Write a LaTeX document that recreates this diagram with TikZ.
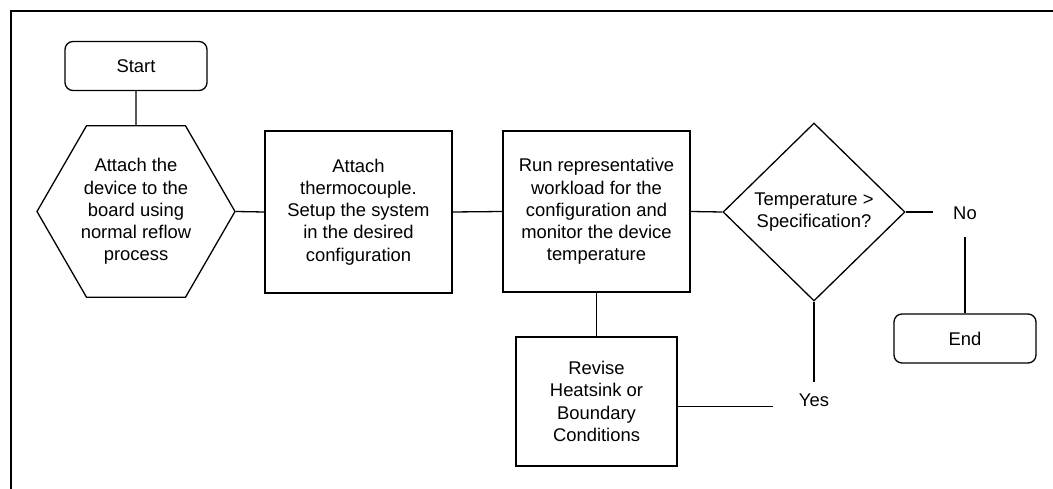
\documentclass[tikz,border=0pt]{standalone}
\usepackage{fontspec}
\setmainfont{Liberation Sans}
\usetikzlibrary{shapes.geometric}
\begin{document}
\begin{tikzpicture}[x=1pt,y=-1pt,
  every node/.style={font=\fontsize{18.4}{22.2}\selectfont},
  line/.style={line width=1.3pt},
  term/.style={draw,line width=1.3pt,rounded corners=8pt,minimum width=142pt,minimum height=49pt,inner sep=0pt},
  proc/.style={draw,line width=1.3pt,align=center,inner sep=0pt},
  lab/.style={inner sep=0pt}]
\useasboundingbox (0,0) rectangle (1053,489);
\draw[line width=2.2pt] (11,489) -- (11,11) -- (1053,11);
\node[term] (start) at (136,66) {Start};
\node[draw,line width=1.3pt,regular polygon,regular polygon sides=6,minimum size=198pt,inner sep=0pt,align=center] (hex) at (136,211.5) {Attach the\\device to the\\board using\\normal reflow\\process};
\node[proc,minimum width=187pt,minimum height=162pt] (setup) at (358.5,212) {Attach\\thermocouple.\\Setup the system\\in the desired\\configuration};
\node[proc,minimum width=187pt,minimum height=161pt] (run) at (596.5,211.5) {Run representative\\workload for the\\configuration and\\monitor the device\\temperature};
\node[proc,minimum width=161pt,minimum height=129pt] (rev) at (596.5,401.5) {Revise\\Heatsink or\\Boundary\\Conditions};
\node[draw,diamond,line width=1.3pt,minimum width=182pt,minimum height=178pt,inner sep=0pt,align=center] (dec) at (814,212) {Temperature >\\Specification?};
\node[lab] (no) at (965,213.7) {No};
\node[lab] (yes) at (814,400.5) {Yes};
\node[term] (endn) at (965,338.5) {End};
\draw[line] (start.south) -- (hex.north);
\draw[line] (hex.east) -- (setup.west);
\draw[line] (setup.east) -- (run.west);
\draw[line] (run.east) -- (dec.west);
\draw[line] (run.south) -- (rev.north);
\draw[line,shorten >=20pt] (dec.east) -- (dec.east -| no.west);
\draw[line,shorten <=17pt] (no.south) -- (endn.north);
\draw[line,shorten >=12pt] (dec.south) -- (yes.north);
\draw[line,shorten >=26pt] (yes.base west -| rev.east) -- (yes.base west);
\end{tikzpicture}
\end{document}
